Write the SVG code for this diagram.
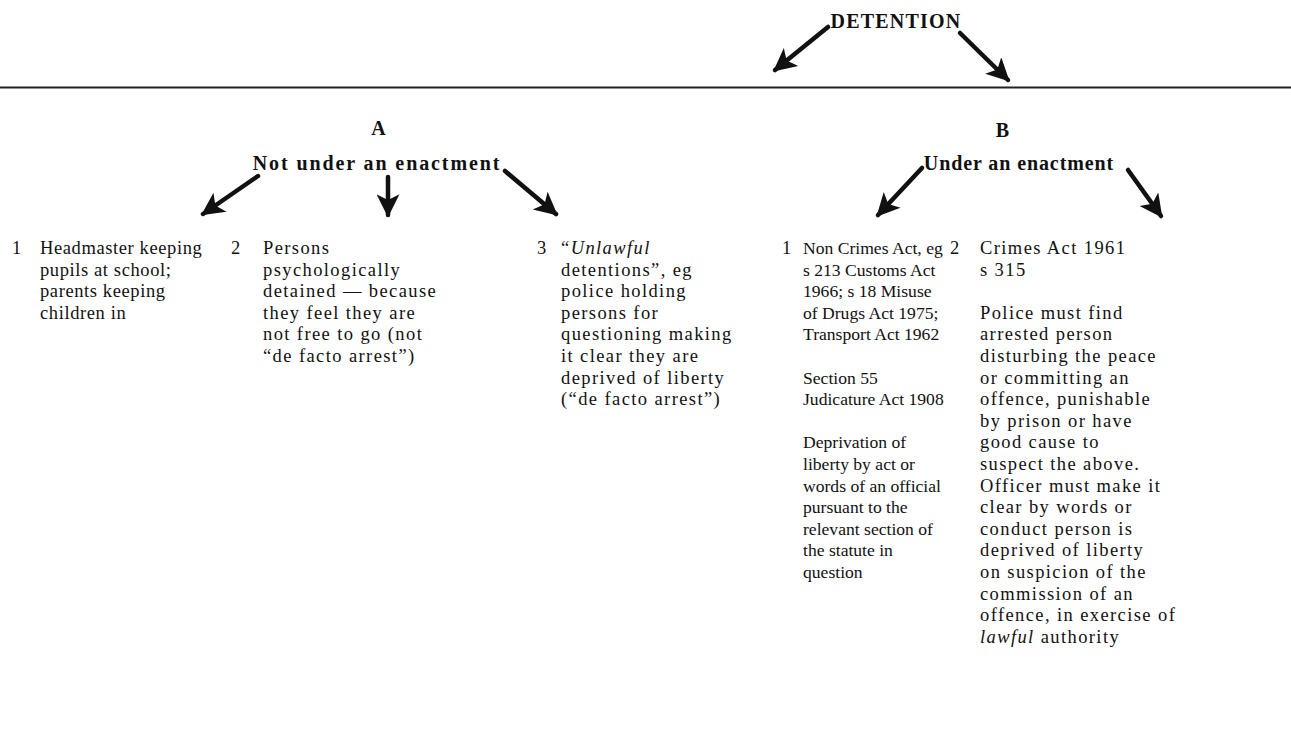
<svg xmlns="http://www.w3.org/2000/svg" width="1291" height="745" viewBox="0 0 1291 745">
<style>
.b{font-family:"Liberation Serif",serif;font-size:18.5px;letter-spacing:1.4px;fill:#111}
.n{letter-spacing:0.6px}
.t{font-size:17.6px;letter-spacing:0px}
.h{font-family:"Liberation Serif",serif;font-size:20px;font-weight:bold;letter-spacing:1.2px;fill:#111}
.ar{stroke:#111;stroke-width:4.5;fill:none;stroke-linecap:round}
</style>
<defs>
<marker id="ah" viewBox="0 0 10 10" refX="9" refY="5" markerWidth="26" markerHeight="23" markerUnits="userSpaceOnUse" orient="auto">
<path d="M0,0 L10,5 L0,10 L2.5,5 Z" fill="#111"/>
</marker>
</defs>
<rect width="1291" height="745" fill="#fff"/>
<line x1="0" y1="87.5" x2="1291" y2="87.5" stroke="#222" stroke-width="2"/>
<g id="detention"><text class="h" x="896" y="28" text-anchor="middle">DETENTION</text></g>
<g id="groupA"><text class="h" x="379" y="135" text-anchor="middle">A</text><text class="h" x="377" y="170" text-anchor="middle" style="letter-spacing:1.9px">Not under an enactment</text></g>
<g id="groupB"><text class="h" x="1003" y="137" text-anchor="middle">B</text><text class="h" x="1019" y="170" text-anchor="middle" style="letter-spacing:0.9px">Under an enactment</text></g>
<g id="connectors">
<line class="ar" x1="828" y1="27" x2="775" y2="70" marker-end="url(#ah)"/>
<line class="ar" x1="960" y1="33" x2="1008" y2="80" marker-end="url(#ah)"/>
<line class="ar" x1="258" y1="176" x2="203" y2="214" marker-end="url(#ah)"/>
<line class="ar" x1="388" y1="177" x2="388" y2="215" marker-end="url(#ah)"/>
<line class="ar" x1="505" y1="171" x2="556" y2="214" marker-end="url(#ah)"/>
<line class="ar" x1="922" y1="168" x2="878" y2="215" marker-end="url(#ah)"/>
<line class="ar" x1="1128" y1="170" x2="1161" y2="216" marker-end="url(#ah)"/>
</g>
<g id="a1"><text class="b" x="12" y="254">1</text>
<text class="b n" y="254"><tspan x="40">Headmaster keeping</tspan><tspan x="40" dy="21.6">pupils at school;</tspan><tspan x="40" dy="21.6">parents keeping</tspan><tspan x="40" dy="21.6">children in</tspan></text></g>
<g id="a2"><text class="b" x="231" y="254">2</text>
<text class="b" y="254"><tspan x="263">Persons</tspan><tspan x="263" dy="21.6">psychologically</tspan><tspan x="263" dy="21.6">detained — because</tspan><tspan x="263" dy="21.6">they feel they are</tspan><tspan x="263" dy="21.6">not free to go (not</tspan><tspan x="263" dy="21.6">“de facto arrest”)</tspan></text></g>
<g id="a3"><text class="b" x="537" y="254">3</text>
<text class="b" y="254"><tspan x="561">“<tspan font-style="italic">Unlawful</tspan></tspan><tspan x="561" dy="21.6">detentions”, eg</tspan><tspan x="561" dy="21.6">police holding</tspan><tspan x="561" dy="21.6">persons for</tspan><tspan x="561" dy="21.6">questioning making</tspan><tspan x="561" dy="21.6">it clear they are</tspan><tspan x="561" dy="21.6">deprived of liberty</tspan><tspan x="561" dy="21.6">(“de facto arrest”)</tspan></text></g>
<g id="b1"><text class="b" x="782" y="254">1</text>
<text class="b t" y="254"><tspan x="803">Non Crimes Act, eg</tspan><tspan x="803" dy="21.6">s 213 Customs Act</tspan><tspan x="803" dy="21.6">1966; s 18 Misuse</tspan><tspan x="803" dy="21.6">of Drugs Act 1975;</tspan><tspan x="803" dy="21.6">Transport Act 1962</tspan><tspan x="803" dy="43.2">Section 55</tspan><tspan x="803" dy="21.6">Judicature Act 1908</tspan><tspan x="803" dy="43.2">Deprivation of</tspan><tspan x="803" dy="21.6">liberty by act or</tspan><tspan x="803" dy="21.6">words of an official</tspan><tspan x="803" dy="21.6">pursuant to the</tspan><tspan x="803" dy="21.6">relevant section of</tspan><tspan x="803" dy="21.6">the statute in</tspan><tspan x="803" dy="21.6">question</tspan></text></g>
<g id="b2"><text class="b" x="950" y="254">2</text>
<text class="b" y="254"><tspan x="980">Crimes Act 1961</tspan><tspan x="980" dy="21.6">s 315</tspan><tspan x="980" dy="43.2">Police must find</tspan><tspan x="980" dy="21.6">arrested person</tspan><tspan x="980" dy="21.6">disturbing the peace</tspan><tspan x="980" dy="21.6">or committing an</tspan><tspan x="980" dy="21.6">offence, punishable</tspan><tspan x="980" dy="21.6">by prison or have</tspan><tspan x="980" dy="21.6">good cause to</tspan><tspan x="980" dy="21.6">suspect the above.</tspan><tspan x="980" dy="21.6">Officer must make it</tspan><tspan x="980" dy="21.6">clear by words or</tspan><tspan x="980" dy="21.6">conduct person is</tspan><tspan x="980" dy="21.6">deprived of liberty</tspan><tspan x="980" dy="21.6">on suspicion of the</tspan><tspan x="980" dy="21.6">commission of an</tspan><tspan x="980" dy="21.6">offence, in exercise of</tspan><tspan x="980" dy="21.6"><tspan font-style="italic">lawful</tspan> authority</tspan></text></g>
</svg>
